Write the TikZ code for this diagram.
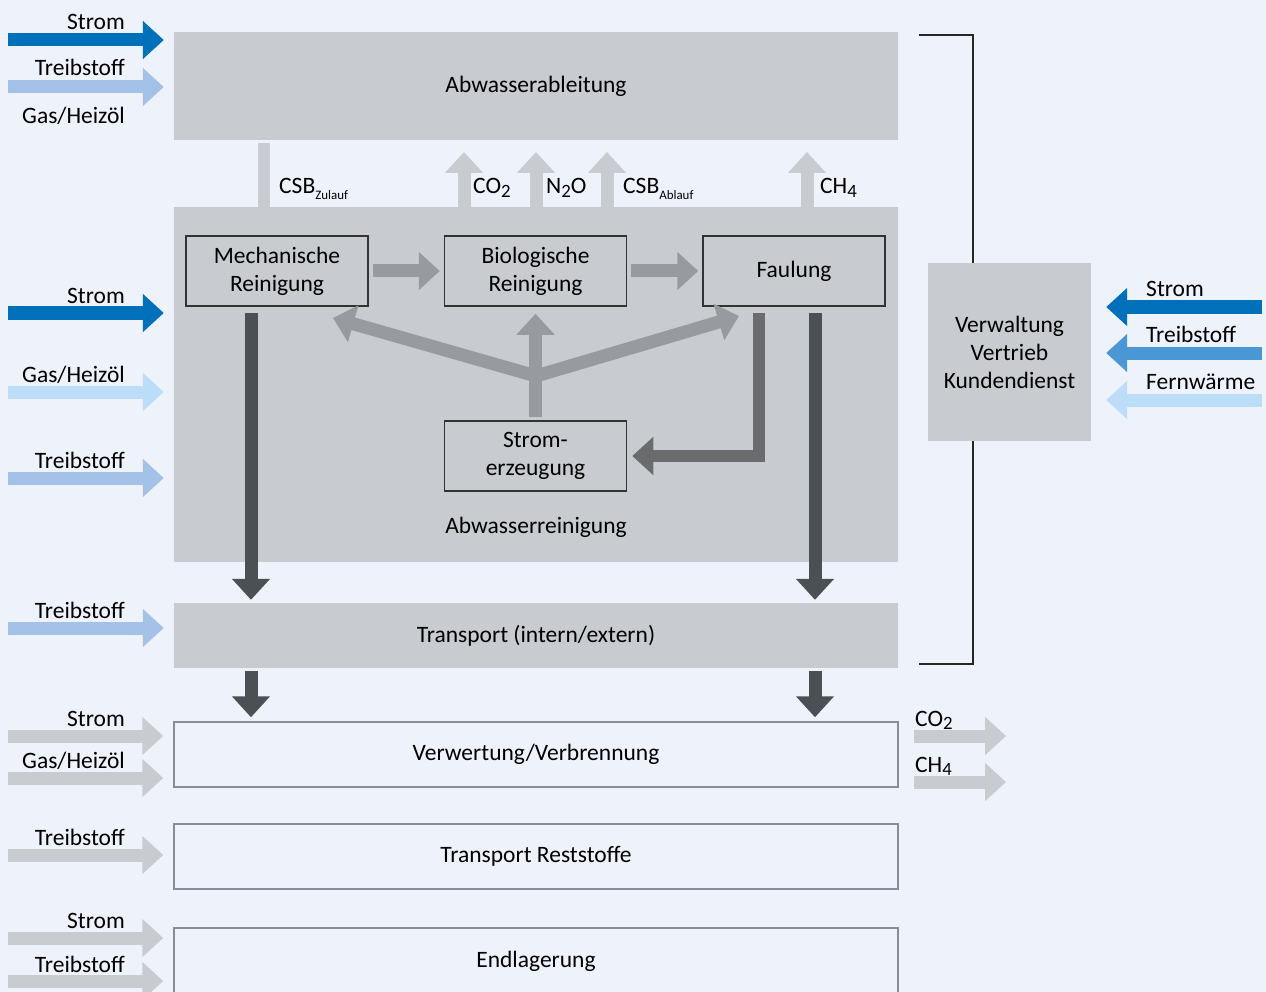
\documentclass[tikz,border=0pt]{standalone}
\usepackage{fontspec}
\setmainfont{Carlito}
\usetikzlibrary{arrows.meta, positioning}

\definecolor{bgcol}{HTML}{EEF2FA}
\definecolor{boxgray}{HTML}{C8CCD1}
\definecolor{framegray}{HTML}{8A8D91}
\definecolor{stromblau}{HTML}{0070BA}
\definecolor{treibblau}{HTML}{A4C2E8}
\definecolor{gasblau}{HTML}{BBDDF7}
\definecolor{midblau}{HTML}{4A97D5}
\definecolor{flowgray}{HTML}{979A9E}
\definecolor{faulgray}{HTML}{6A6B6D}
\definecolor{darkgray}{HTML}{4B5055}

\newcommand{\lowsub}[1]{\raisebox{-0.35ex}{\scalebox{0.8}{#1}}}
\newcommand{\tinysub}[1]{\raisebox{-0.45ex}{\scalebox{0.55}{#1}}}

\begin{document}
\begin{tikzpicture}[x=1pt, y=-1pt, font=\fontsize{23.5}{28}\selectfont,
    stage/.style={fill=boxgray, minimum width=724pt, inner sep=0pt},
    outline/.style={draw=framegray, line width=1.5pt, minimum width=724pt, minimum height=65pt, inner sep=0pt},
    unit/.style={draw=black!80, line width=1.5pt, fill=boxgray, minimum width=182pt, minimum height=70pt, align=center, inner sep=0pt},
    lbl/.style={inner sep=0pt},
    fat/.style={line width=13pt, -{Triangle[width=37pt,length=21pt]}}]
  % canvas
  \useasboundingbox (0,0) rectangle (1266,992);
  \fill[bgcol] (0,0) rectangle (1266,992);

  % bracket around the plant
  \draw[line width=1.3pt, black!85] (919,35) -- (973,35) -- (973,664) -- (919,664);

  % main stages
  \node[stage, minimum height=108pt] (abl) at (536,86) {Abwasserableitung};
  \node[stage, minimum height=355pt] (arein) at (536,384.5) {};
  \node[lbl] (areinlbl) at (536,527) {Abwasserreinigung};
  \node[stage, minimum height=65pt] (trans) at (536,635.5) {Transport (intern/extern)};
  \node[outline] (verw) at (536,754.5) {Verwertung/Verbrennung};
  \node[outline] (rest) at (536,856.5) {Transport Reststoffe};
  \node[outline, minimum height=66pt] (endl) at (536,961) {Endlagerung};
  \node[stage, minimum width=163pt, minimum height=178pt, align=center] (verwalt) at (1009.5,352)
    {Verwaltung\\Vertrieb\\Kundendienst};

  % units inside Abwasserreinigung
  \node[unit] (mech) at (277,271) {Mechanische\\Reinigung};
  \node[unit] (bio) at (535.5,271) {Biologische\\Reinigung};
  \node[unit] (faul) at (794,271) {Faulung};
  \node[unit] (strom) at (535.5,456) {Strom-\\erzeugung};

  % flows between units
  \draw[fat, flowgray, shorten <=4pt, shorten >=4pt] (mech) -- (bio);
  \draw[fat, flowgray, shorten <=4pt, shorten >=4pt] (bio) -- (faul);
  \coordinate (fork) at (536,376);
  \coordinate (mtip) at (333,318);
  \coordinate (ftip) at (739,316);
  \draw[fat, flowgray] (fork) -- (mtip);
  \draw[fat, flowgray] (fork) -- (ftip);
  \draw[fat, flowgray, shorten <=3pt, shorten >=7pt] (strom) -- (bio);
  \coordinate (fstart) at (759,313);
  \draw[line width=12pt, faulgray, line join=miter, -{Triangle[width=37pt,length=21pt]}, shorten >=5pt]
    (fstart) |- (strom.east);

  % sludge paths
  \coordinate (dl) at (251,313);
  \coordinate (dr) at (815,313);
  \draw[fat, darkgray, shorten >=3pt] (dl) -- (dl |- trans.north);
  \draw[fat, darkgray, shorten >=3pt] (dr) -- (dr |- trans.north);
  \draw[fat, darkgray, shorten <=3pt, shorten >=4pt] (dl |- trans.south) -- (dl |- verw.north);
  \draw[fat, darkgray, shorten <=3pt, shorten >=4pt] (dr |- trans.south) -- (dr |- verw.north);

  % emissions
  \coordinate (csbz) at (264,143);
  \draw[line width=12pt, boxgray] (csbz |- arein.north) -- (csbz);
  \node[lbl, anchor=base west] (lcsbz) at (279,194) {CSB\tinysub{Zulauf}};
  \foreach \x/\n in {464/co, 536/no, 607/csb, 807/ch}{
    \coordinate (em\n) at (\x,152);
    \draw[fat, boxgray] (em\n |- arein.north) -- (em\n);
  }
  \node[lbl, anchor=base west] (lco) at (473,194) {CO\lowsub{2}};
  \node[lbl, anchor=base west] (lno) at (546,194) {N\lowsub{2}O};
  \node[lbl, anchor=base west] (lcsb) at (623,194) {CSB\tinysub{Ablauf}};
  \node[lbl, anchor=base west] (lch) at (820,194) {CH\lowsub{4}};

  % inputs left
  \node[lbl, anchor=base east] (ilgas) at (125,124) {Gas/Heizöl};
  \foreach \ty/\ay/\txt/\col/\tgt/\n in {
      30/40/Strom/stromblau/abl/a,
      76/87/Treibstoff/treibblau/abl/b,
      304/313/Strom/stromblau/arein/c,
      382/392/{Gas/Heizöl}/gasblau/arein/d,
      468/478/Treibstoff/treibblau/arein/e,
      618/628/Treibstoff/treibblau/trans/f,
      726/736/Strom/boxgray/verw/g,
      768/778/{Gas/Heizöl}/boxgray/verw/h,
      845/855/Treibstoff/boxgray/rest/i,
      928/938/Strom/boxgray/endl/j,
      972/981/Treibstoff/boxgray/endl/k}{
    \node[lbl, anchor=base east] (il\n) at (125,\ty) {\txt};
    \coordinate (is\n) at (8,\ay);
    \draw[fat, \col, shorten >=10pt] (is\n) -- (is\n -| \tgt.west);
  }

  % inputs right
  \foreach \ty/\ay/\txt/\col/\n in {
      297/307/Strom/stromblau/a,
      342/353/Treibstoff/midblau/b,
      389/400/Fernwärme/gasblau/c}{
    \node[lbl, anchor=base west] (rl\n) at (1146,\ty) {\txt};
    \coordinate (rs\n) at (1262,\ay);
    \draw[fat, \col, shorten >=15pt] (rs\n) -- (rs\n -| verwalt.east);
  }

  % outputs of Verwertung
  \foreach \ay/\n in {736/co, 782/ch}{
    \coordinate (out\n) at (1006,\ay);
    \draw[fat, boxgray, shorten <=15pt] (out\n -| verw.east) -- (out\n);
  }
  \node[lbl, anchor=base west] (lout1) at (915,726) {CO\lowsub{2}};
  \node[lbl, anchor=base west] (lout2) at (915,772) {CH\lowsub{4}};
\end{tikzpicture}
\end{document}
